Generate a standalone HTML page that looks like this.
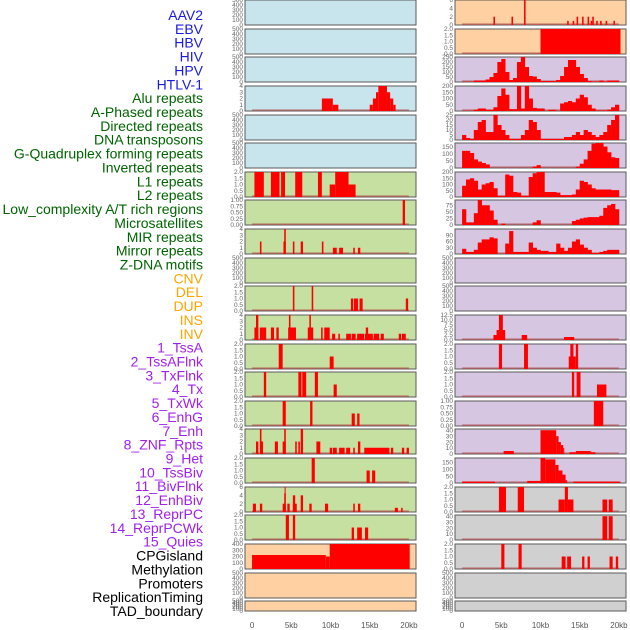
<!DOCTYPE html>
<html><head><meta charset="utf-8">
<style>
html,body{margin:0;padding:0;background:#fff;}
svg{display:block;font-family:"Liberation Sans",sans-serif;}
</style></head>
<body>
<svg id="chart" width="630" height="630" viewBox="0 0 630 630"></svg>
<script>
// ---- labels ----
const trackLabels = ["AAV2","EBV","HBV","HIV","HPV","HTLV-1","Alu repeats","A-Phased repeats","Directed repeats","DNA transposons","G-Quadruplex forming repeats","Inverted repeats","L1 repeats","L2 repeats","Low_complexity A/T rich regions","Microsatellites","MIR repeats","Mirror repeats","Z-DNA motifs","CNV","DEL","DUP","INS","INV","1_TssA","2_TssAFlnk","3_TxFlnk","4_Tx","5_TxWk","6_EnhG","7_Enh","8_ZNF_Rpts","9_Het","10_TssBiv","11_BivFlnk","12_EnhBiv","13_ReprPC","14_ReprPCWk","15_Quies","CPGisland","Methylation","Promoters","ReplicationTiming","TAD_boundary"];
const labelGroups = [6,13,5,15,5];
const xTickValues = [0,5,10,15,20];
const xTickLabels = ["0","5kb","10kb","15kb","20kb"];
const emptyTicks = [0,100,200,300,400,500];

// ---- left column data (segments: [startKb, endKb, value]) ----
const L_hiv = [[8.9,10.3,2],[10.3,11.0,1],[15.0,15.4,1],[15.4,15.8,2],[15.8,16.1,3],[16.1,17.2,4],[17.2,17.6,3],[17.6,18.0,2],[18.0,18.3,1]];
const L_alu = [[0.3,1.5,2],[2.4,3.5,2],[3.7,4.2,2],[5.5,6.4,2],[8.4,8.9,2],[9.9,10.6,1],[10.6,12.3,2],[12.3,13.2,1]];
const L_aphased = [[19.2,19.5,1]];
const L_directed = [[1.0,1.2,2],[4.0,4.3,2],[4.1,4.3,4],[5.2,5.4,2],[6.2,6.5,2],[8.9,9.1,2],[10.3,10.8,1],[11.1,11.6,1],[12.9,13.1,1],[13.5,13.8,1]];
const L_gquad = [[5.2,5.4,2],[7.6,7.8,2],[12.6,12.9,1],[13.0,13.5,1],[13.7,14.1,1],[19.6,19.9,1]];
const L_inverted = [[0.3,0.8,2],[0.5,0.8,4],[1.0,1.4,2],[1.4,1.8,2],[2.4,2.8,2],[3.1,3.4,2],[4.6,5.6,2],[4.7,4.9,4],[7.1,7.8,2],[7.3,7.5,4],[8.8,9.0,2],[9.2,9.9,2],[10.2,10.6,1],[11.0,11.2,1],[12.0,12.6,1],[12.7,13.2,1],[13.4,14.3,1],[14.5,14.8,2],[14.4,15.4,1],[15.5,16.2,1],[16.4,16.8,1],[18.7,19.0,1],[19.1,19.6,1]];
const L_l1 = [[3.4,3.9,2],[9.9,10.4,1]];
const L_l2 = [[1.5,1.8,2],[5.9,6.3,2],[6.4,6.9,2],[8.0,8.4,2],[10.4,10.8,1]];
const L_lowc = [[3.9,4.3,2],[7.4,7.7,2],[12.7,13.1,1],[13.4,13.7,1]];
const L_micro = [[0.5,0.8,2],[1.0,1.4,2],[1.0,1.2,4],[2.9,3.3,2],[3.9,4.3,2],[4.1,4.3,4],[5.5,5.7,2],[5.9,6.1,2],[6.2,6.5,4],[8.2,8.7,2],[9.9,10.2,1],[10.3,10.8,1],[11.1,11.8,1],[12.0,12.5,1],[12.9,13.1,1],[13.5,13.8,2],[14.3,17.5,1],[17.7,18.0,1],[19.1,19.4,1],[19.7,20.0,1]];
const L_mir = [[7.6,8.0,2],[14.6,15.0,1],[15.3,15.7,1]];
const L_mirror = [[0.1,0.5,2],[1.0,1.3,2],[3.9,4.3,2],[4.1,4.3,4.5],[4.15,4.25,6],[4.5,4.8,2],[5.2,5.7,2],[5.2,5.5,4],[6.2,6.5,4],[7.3,7.6,2],[9.3,9.7,2],[12.9,13.1,2],[13.5,13.8,2],[18.2,18.6,1],[19.0,19.2,1]];
const L_zdna = [[4.3,4.7,2],[5.2,5.5,2],[12.7,13.0,1],[13.4,14.0,1],[14.4,14.8,1]];
const L_cnv = [[0,9.4,224],[9.4,9.9,200],[9.9,20.1,400]];

// ---- right column data ----
const R_del = [[4.0,4.2,2],[6.3,6.5,2],[7.9,8.1,6],[13.4,13.6,1],[14.1,14.3,1],[14.6,14.8,2],[15.3,15.5,2],[16.0,16.2,2],[16.4,16.6,1],[16.6,16.8,2],[17.1,17.3,1],[17.6,17.8,1],[18.3,18.5,1],[19.3,19.5,1]];
const R_dup = [[10.0,20.2,2]];
// binned (0.5kb) histograms from 0 to 20kb
const R_ins = [2,2,2,15,15,15,25,50,90,200,230,100,20,40,200,250,150,60,55,30,10,10,10,10,20,60,150,220,220,150,80,40,10,5,5,15,5,15,15,15];
const R_inv = [2,2,2,10,20,20,10,10,30,120,180,130,15,15,200,20,200,100,25,20,20,0,10,10,0,60,70,80,70,100,130,110,50,20,5,5,5,10,30,50];
const R_tssa = [5,2,1,10,18,20,8,8,25,15,10,5,1,1,1,5,10,20,18,10,1,1,1,1,1,1,3,3,5,8,5,10,8,5,3,5,8,15,20,25];
const R_tssaflnk = [120,120,105,60,45,35,25,0,0,0,0,0,0,0,0,0,0,0,10,20,0,0,0,0,0,0,0,0,0,10,30,60,120,170,175,175,150,110,75,70];
const R_txflnk = [90,140,150,130,60,100,110,120,70,10,10,180,170,40,35,10,10,160,190,200,200,40,40,40,35,15,15,15,20,60,130,120,100,70,60,60,60,60,55,55];
const R_tx = [60,10,10,45,95,75,75,55,20,0,5,0,0,0,0,0,0,0,10,18,0,0,0,0,0,0,0,0,15,20,25,28,30,30,30,35,65,75,80,60];
const R_txwk = [25,10,10,20,55,70,70,80,75,0,0,50,110,10,10,10,10,55,30,20,15,15,10,10,50,30,15,30,60,70,45,30,20,5,5,10,15,20,20,20];
const R_znf = [[4.0,4.7,2.5],[4.4,5.5,5],[4.7,5.2,12.5],[7.6,8.3,2.5],[13.0,14.3,1.5]];
const R_het = [[4.7,5.1,2],[7.9,8.4,2],[13.6,14.2,1],[13.8,14.2,2],[14.2,14.5,1],[14.5,14.8,2]];
const R_tssbiv = [[14.0,14.3,2],[14.6,15.1,2],[17.2,18.4,1]];
const R_bivflnk = [[16.8,18.0,1]];
const R_enhbiv = [[5.3,6.6,5],[10.0,12.0,40],[12.0,12.3,30],[12.3,12.6,20],[12.6,12.9,15],[12.9,13.0,10],[13.7,14.5,3],[14.5,16.4,5],[16.4,17.0,3]];
const R_reprpc = [[0,4.2,10],[8.3,10.0,15],[10.0,10.6,180],[10.6,11.9,170],[11.9,12.3,130],[12.3,12.8,90],[12.8,13.2,60],[13.2,13.4,20],[14.2,20.2,10]];
const R_cpg = [[4.7,5.6,2],[7.1,7.9,2],[12.3,13.1,1],[13.1,13.5,2],[13.5,14.2,1],[17.9,18.5,1],[18.7,19.2,1]];
const R_methyl = [[17.9,18.5,40],[18.7,19.2,40]];
const R_prom = [[5.0,5.4,2],[7.2,7.6,2],[12.7,13.2,1],[13.4,13.9,1],[15.3,15.6,1],[16.0,16.3,1],[18.8,19.2,1],[19.6,19.9,1]];

const BG = {b:"#c8e4ec",g:"#c6e0a2",o:"#ffd1a2",p:"#d6c6e2",k:"#d0d0d0"};
const T2 = [0,0.5,1.0,1.5,2.0], T4=[0,1,2,3,4], T6=[0,2,4,6];
function E(bg){return {bg:bg,ticks:emptyTicks,ymax:500};}
const leftPanels = [
 E("b"),E("b"),E("b"),
 {bg:"b",ticks:T4,ymax:4,segs:L_hiv},
 E("b"),E("b"),
 {bg:"g",ticks:T2,ymax:2,segs:L_alu},
 {bg:"g",ticks:[0,0.25,0.5,0.75,1.0],ymax:1,segs:L_aphased,fmt:2},
 {bg:"g",ticks:T4,ymax:4,segs:L_directed},
 E("g"),
 {bg:"g",ticks:T2,ymax:2,segs:L_gquad},
 {bg:"g",ticks:T4,ymax:4,segs:L_inverted},
 {bg:"g",ticks:T2,ymax:2,segs:L_l1},
 {bg:"g",ticks:T2,ymax:2,segs:L_l2},
 {bg:"g",ticks:T2,ymax:2,segs:L_lowc},
 {bg:"g",ticks:T4,ymax:4,segs:L_micro},
 {bg:"g",ticks:T2,ymax:2,segs:L_mir},
 {bg:"g",ticks:T6,ymax:6,segs:L_mirror},
 {bg:"g",ticks:T2,ymax:2,segs:L_zdna},
 {bg:"o",ticks:[0,100,200,300,400],ymax:400,segs:L_cnv},
 E("o"),E("o")
];
const rightPanels = [
 {bg:"o",ticks:T6,ymax:6,segs:R_del},
 {bg:"o",ticks:T2,ymax:2,segs:R_dup},
 {bg:"p",ticks:[0,50,100,150,200,250],ymax:250,bins:R_ins},
 {bg:"p",ticks:[0,50,100,150,200],ymax:200,bins:R_inv},
 {bg:"p",ticks:[0,5,10,15,20,25],ymax:25,bins:R_tssa},
 {bg:"p",ticks:[0,50,100,150],ymax:175,bins:R_tssaflnk},
 {bg:"p",ticks:[0,50,100,150,200],ymax:200,bins:R_txflnk},
 {bg:"p",ticks:[0,25,50,75],ymax:95,bins:R_tx},
 {bg:"p",ticks:[0,30,60,90],ymax:120,bins:R_txwk},
 E("p"),E("p"),
 {bg:"p",ticks:[0,2.5,5,7.5,10,12.5],ymax:12.5,segs:R_znf,fmt:1},
 {bg:"p",ticks:T2,ymax:2,segs:R_het},
 {bg:"p",ticks:T2,ymax:2,segs:R_tssbiv},
 {bg:"p",ticks:[0,0.25,0.5,0.75,1.0],ymax:1,segs:R_bivflnk,fmt:2},
 {bg:"p",ticks:[0,10,20,30,40],ymax:42,segs:R_enhbiv},
 {bg:"p",ticks:[0,50,100,150],ymax:180,segs:R_reprpc},
 {bg:"k",ticks:T2,ymax:2,segs:R_cpg},
 {bg:"k",ticks:[0,10,20,30,40],ymax:42,segs:R_methyl},
 {bg:"k",ticks:T2,ymax:2,segs:R_prom},
 E("k"),E("k")
];

const NS="http://www.w3.org/2000/svg";
const svg=document.getElementById("chart");
function mk(tag,attrs,parent){const e=document.createElementNS(NS,tag);for(const k in attrs)e.setAttribute(k,attrs[k]);(parent||svg).appendChild(e);return e;}

// labels
const groupColors=["#1a1ae6","#006400","#ffa500","#a020f0","#000000"];
let gi=0,gc=0;
trackLabels.forEach((t,i)=>{
  while(gc>=labelGroups[gi]){gi++;gc=0;}
  gc++;
  const y=15+i*13.86;
  const el=mk("text",{x:203,y:y+5,"text-anchor":"end","font-size":"14",fill:groupColors[gi]});
  el.textContent=t;
  
  
});

const W=171, XMIN=-0.9, XRANGE=21.8;
function xs(x0,kb){return x0+(kb-XMIN)/XRANGE*W;}
function fmtTick(v,f){return f?v.toFixed(f):(Number.isInteger(v)?String(v):v.toFixed(1));}

function drawColumn(panels,x0,col){
  panels.forEach((p,i)=>{
    const top=Math.round(i*28.63);
    const h=(i===21)?10:25;
    const g=mk("g",{});
    
    
    mk("rect",{x:x0,y:top,width:W,height:h,fill:BG[p.bg],stroke:"#5a5a5a","stroke-width":1},g);
    const ys=v=>top+h-v/p.ymax*h;
    // ticks
    const allTwo=p.ticks.every(t=>Number.isInteger(t))===false && !p.fmt;
    p.ticks.forEach(t=>{
      const tx=mk("text",{x:x0-2,y:ys(t)+2.2,"text-anchor":"end","font-size":"6.5",fill:"#666"},g);
      tx.textContent=allTwo?t.toFixed(1):fmtTick(t,p.fmt);
      
      
    });
    if(p.segs||p.bins){
      const bl=mk("line",{x1:xs(x0,0),x2:xs(x0,20),y1:top+h-0.8,y2:top+h-0.8,stroke:"#b04040","stroke-width":1.6,opacity:0.6},g);
      
      
    }
    if(p.segs){
      p.segs.forEach(s=>{
        const v=Math.min(s[2],p.ymax);
        const r=mk("rect",{x:xs(x0,s[0]),y:ys(v),width:Math.max(1,xs(x0,s[1])-xs(x0,s[0])),height:top+h-ys(v),fill:"#ff0000"},g);
        
        
      });
    }
    if(p.bins){
      p.bins.forEach((b,k)=>{
        if(b<=0)return;
        const v=Math.min(b,p.ymax);
        const r=mk("rect",{x:xs(x0,k*0.5),y:ys(v),width:xs(x0,k*0.5+0.5)-xs(x0,k*0.5)+0.3,height:top+h-ys(v),fill:"#ff0000"},g);
        
        
      });
    }
  });
  xTickValues.forEach((v,k)=>{
    const t=mk("text",{x:xs(x0,v),y:628,"text-anchor":"middle","font-size":"8",fill:"#555"});
    t.textContent=xTickLabels[k];
    
    
  });
}
drawColumn(leftPanels,245,"left");
drawColumn(rightPanels,455,"right");
</script>
</body></html>
